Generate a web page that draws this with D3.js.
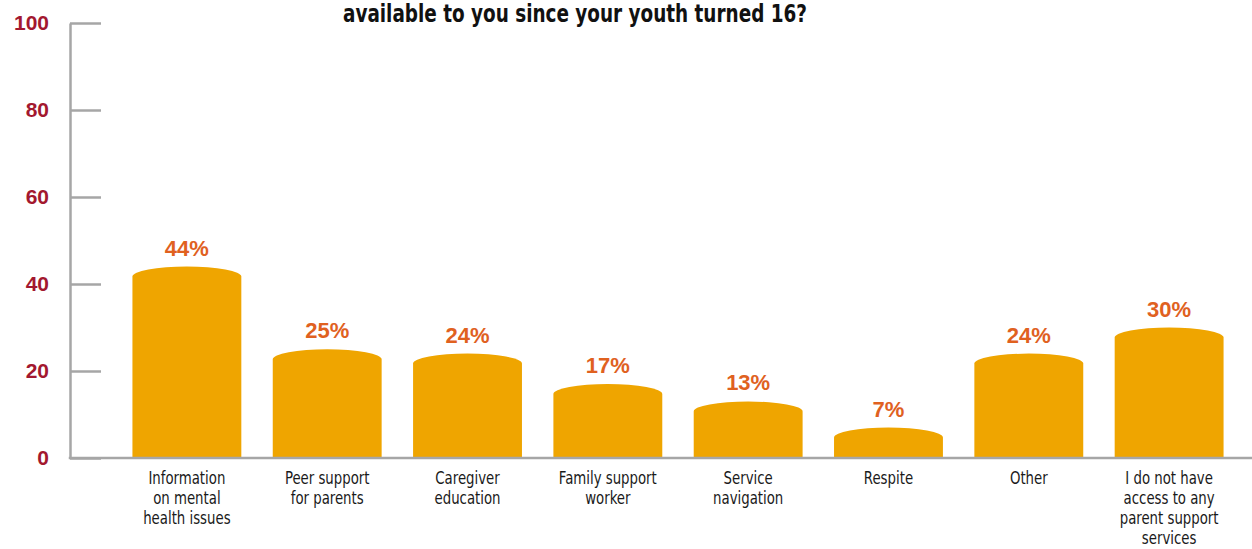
<!DOCTYPE html>
<html>
<head>
<meta charset="utf-8">
<script src="https://cdn.jsdelivr.net/npm/d3@7/dist/d3.min.js"></script>
<style>
  html, body { margin: 0; padding: 0; background: #ffffff; }
  svg { display: block; }
</style>
</head>
<body>
<svg id="chart" width="1252" height="549"></svg>
<script>
// Parent support services accessed since youth turned 16 (% of respondents)
const categories = [
  ["Information", "on mental", "health issues"],
  ["Peer support", "for parents"],
  ["Caregiver", "education"],
  ["Family support", "worker"],
  ["Service", "navigation"],
  ["Respite"],
  ["Other"],
  ["I do not have", "access to any", "parent support", "services"]
];
const values = [44, 25, 24, 17, 13, 7, 24, 30];
const yTicks = [0, 20, 40, 60, 80, 100];
const titleText = "available to you since your youth turned 16?";

const W = 1252, H = 549;
const axisX = 70, plotTop = 23, plotBottom = 458;
const narrowFont = "'DejaVu Sans Condensed', 'Liberation Sans', sans-serif";

const svg = d3.select("#chart");

const x = d3.scaleBand()
  .domain(d3.range(values.length))
  .range([101, 1255])
  .padding(0.224);

const y = d3.scaleLinear()
  .domain([0, 100])
  .range([plotBottom, plotTop]);

// Title (second line of a two-line heading)
svg.append("text")
  .attr("x", 575)
  .attr("y", 22)
  .attr("text-anchor", "middle")
  .attr("font-family", narrowFont)
  .attr("font-weight", "bold")
  .attr("font-size", 24)
  .attr("textLength", 464)
  .attr("lengthAdjust", "spacingAndGlyphs")
  .attr("fill", "#111111")
  .text(titleText);

// Y axis with ticks pointing into the plot
const yAxis = d3.axisLeft(y)
  .tickValues(yTicks)
  .tickSizeInner(-31)
  .tickSizeOuter(0)
  .tickPadding(21);

const gy = svg.append("g")
  .attr("transform", `translate(${axisX},0)`)
  .call(yAxis);
gy.select(".domain").attr("stroke", "#a6a6a6").attr("stroke-width", 2.5);
gy.selectAll(".tick line").attr("stroke", "#a6a6a6").attr("stroke-width", 2.5);
gy.selectAll(".tick text")
  .attr("fill", "#a3182f")
  .attr("font-family", "'Liberation Sans', Arial, sans-serif")
  .attr("font-weight", "bold")
  .attr("font-size", 21);

// Bars with a rounded, cylinder-like top
const ry = 10;
function barPath(v, i) {
  const x0 = x(i), w = x.bandwidth();
  const top = y(v), base = y(0);
  return `M${x0},${base} L${x0},${top + ry} A${w / 2},${ry} 0 0 1 ${x0 + w},${top + ry} L${x0 + w},${base} Z`;
}

svg.append("g")
  .selectAll("path")
  .data(values)
  .join("path")
  .attr("d", (d, i) => barPath(d, i))
  .attr("fill", "#efa500");

// Baseline across the full width
svg.append("line")
  .attr("x1", axisX - 1.25)
  .attr("x2", W)
  .attr("y1", y(0))
  .attr("y2", y(0))
  .attr("stroke", "#a6a6a6")
  .attr("stroke-width", 2.5);

// Value labels above bars
svg.append("g")
  .selectAll("text")
  .data(values)
  .join("text")
  .attr("x", (d, i) => x(i) + x.bandwidth() / 2)
  .attr("y", d => y(d) - 11)
  .attr("text-anchor", "middle")
  .attr("font-family", "'Liberation Sans', Arial, sans-serif")
  .attr("font-weight", "bold")
  .attr("font-size", 22)
  .attr("fill", "#e0611f")
  .text(d => d + "%");

// Category labels below the baseline, horizontally condensed
const catG = svg.append("g")
  .selectAll("g")
  .data(categories)
  .join("g")
  .attr("transform", (d, i) => `translate(${x(i) + x.bandwidth() / 2},484) scale(0.87,1)`);

catG.append("text")
  .attr("text-anchor", "middle")
  .attr("font-family", narrowFont)
  .attr("font-size", 17)
  .attr("fill", "#1a1a1a")
  .selectAll("tspan")
  .data(d => d)
  .join("tspan")
  .attr("x", 0)
  .attr("dy", (d, j) => j === 0 ? 0 : 20)
  .text(d => d);
</script>
</body>
</html>
